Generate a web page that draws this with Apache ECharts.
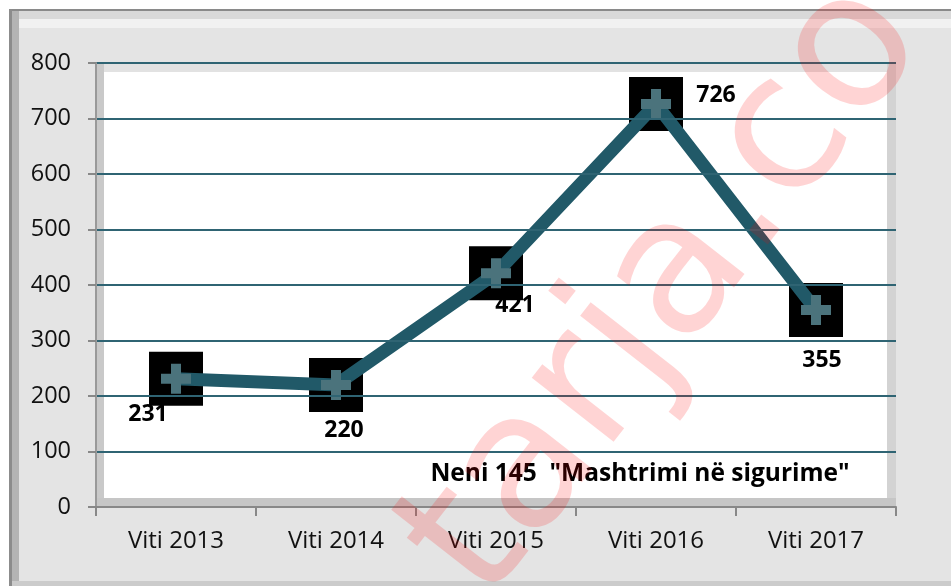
<!DOCTYPE html>
<html><head><meta charset="utf-8">
<script src="https://cdn.jsdelivr.net/npm/echarts@6/dist/echarts.min.js"></script>
<style>html,body{margin:0;padding:0;background:#fff}#c{width:951px;height:586px}</style>
</head><body><div id="c"></div>
<script>
const categories = ['Viti 2013', 'Viti 2014', 'Viti 2015', 'Viti 2016', 'Viti 2017'];
const values = [231, 220, 421, 726, 355];
const yMin = 0, yMax = 800, yStep = 100;
const chartTitle = 'Neni 145  "Mashtrimi në sigurime"';
const watermarkText = 'tarja.co';

// label placement (relative to each point), kept apart from the data
const labelOffsets = [[-28, 36], [8, 46], [19, 32], [60, -9], [6, 50]];

const FONT = '"Open Sans", "Liberation Sans", sans-serif';
const G = { left: 96, top: 63, width: 800, height: 444 };

const chart = echarts.init(document.getElementById('c'), null, { renderer: 'canvas' });

const bgRects = [
  // outer panel
  { x: 9, y: 9, w: 960, h: 600, fill: '#e4e4e4' },
  { x: 9, y: 9, w: 960, h: 2, fill: '#8a8a8a' },
  { x: 11, y: 11, w: 960, h: 8, fill: '#d9d9d9' },
  { x: 11, y: 19, w: 960, h: 9, fill: '#f1f1f1' },
  { x: 9, y: 9, w: 3, h: 600, fill: '#8c8c8c' },
  { x: 12, y: 11, w: 7, h: 600, fill: '#b4b4b4' },
  { x: 12, y: 581, w: 960, h: 10, fill: '#cbcbcb' },
  // plot walls
  { x: G.left, y: G.top, w: G.width, h: G.height, fill: '#e2e2e2' },
  { x: G.left, y: G.top, w: 8, h: G.height, fill: '#c9c9c9' },
  { x: G.left + G.width - 9, y: G.top, w: 9, h: G.height, fill: '#d3d3d3' },
  { x: G.left, y: G.top + G.height - 9, w: G.width, h: 9, fill: '#c6c6c6' },
  { x: G.left + 8, y: G.top + 9, w: G.width - 17, h: G.height - 18, fill: '#ffffff' }
];

const graphics = bgRects.map(r => ({
  type: 'rect', z: -10, silent: true,
  shape: { x: r.x, y: r.y, width: r.w, height: r.h },
  style: { fill: r.fill }
}));

graphics.push({
  type: 'text', z: 50, silent: true,
  x: 640, y: 474,
  style: { text: chartTitle, font: 'bold 24.5px ' + FONT, fill: '#000', align: 'center', verticalAlign: 'middle' }
});

graphics.push({
  type: 'text', z: 100, silent: true,
  x: 668, y: 292, rotation: 52 * Math.PI / 180,
  style: { text: watermarkText, font: '190px "DejaVu Sans", sans-serif', fill: 'rgba(255,0,0,0.17)', align: 'center', verticalAlign: 'middle' }
});

const crossPath = 'path://M1,0H2V1H3V2H2V3H1V2H0V1H1Z';

chart.setOption({
  animation: false,
  backgroundColor: '#ffffff',
  graphic: { elements: graphics },
  grid: { left: G.left, top: G.top, width: G.width, height: G.height, containLabel: false },
  xAxis: {
    type: 'category', data: categories, boundaryGap: true, z: 5,
    axisLine: { show: true, lineStyle: { color: '#888888', width: 2 } },
    axisTick: { show: true, length: 9, lineStyle: { color: '#888888', width: 2 } },
    axisLabel: { color: '#111', fontFamily: FONT, fontSize: 24, margin: 22 },
    splitLine: { show: false }
  },
  yAxis: {
    type: 'value', min: yMin, max: yMax, interval: yStep, z: 5,
    axisLine: { show: true, lineStyle: { color: '#999999', width: 2 } },
    axisTick: { show: true, length: 8, lineStyle: { color: '#888888', width: 2 } },
    axisLabel: { color: '#111', fontFamily: FONT, fontSize: 23.5, margin: 25 },
    splitLine: { show: true, lineStyle: { color: '#2f6473', width: 2 } }
  },
  series: [
    {
      type: 'scatter', data: values, symbol: 'rect', symbolSize: 54, z: 2,
      itemStyle: { color: '#000000', opacity: 1 }, silent: true
    },
    {
      type: 'line', data: values, symbol: 'none', z: 3, silent: true,
      lineStyle: { color: '#215968', width: 13, join: 'miter' }
    },
    {
      type: 'scatter', symbol: crossPath, symbolSize: 30, z: 4, silent: true,
      itemStyle: { color: '#4b737c', opacity: 1 },
      data: values.map((v, i) => ({ value: v, label: { offset: labelOffsets[i] } })),
      label: {
        show: true, position: 'inside', formatter: '{c}',
        color: '#000', fontFamily: FONT, fontWeight: 'bold', fontSize: 23
      }
    }
  ]
});
</script>
</body></html>
